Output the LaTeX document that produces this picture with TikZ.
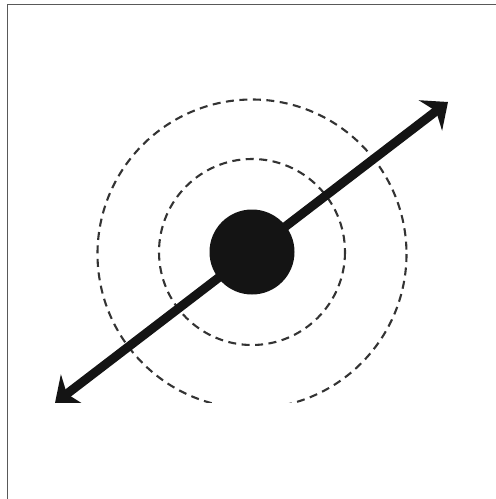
\documentclass[tikz,border=0pt]{standalone}
\usetikzlibrary{arrows.meta}
\begin{document}
\begin{tikzpicture}[x=1pt,y=-1pt,
  ring/.style={draw=black!80, line width=2.1pt, dash pattern=on 8pt off 5.5pt},
  bigarrow/.style={line width=9pt, black!92,
    {Stealth[length=22pt,width=38pt,inset=7pt]}-{Stealth[length=22pt,width=38pt,inset=7pt]}},
  frameline/.style={draw=black!65, line width=1.6pt}]
\fill[white] (0,0) rectangle (496,499);
\useasboundingbox (0,0) rectangle (496,499);
\draw[frameline] (7.5,499) -- (7.5,4.5) -- (496,4.5);
\begin{scope}
\clip (9,6) rectangle (496,402);
\draw[ring] (252,254) circle (154.5);
\draw[ring] (252,252) circle (93);
\coordinate (lo) at (55,403);
\coordinate (hi) at (448,102);
\draw[bigarrow] (lo) -- (hi);
\node[circle, fill=black!92, minimum size=85pt, inner sep=0pt] (dot) at (252,252) {};
\end{scope}
\end{tikzpicture}
\end{document}
